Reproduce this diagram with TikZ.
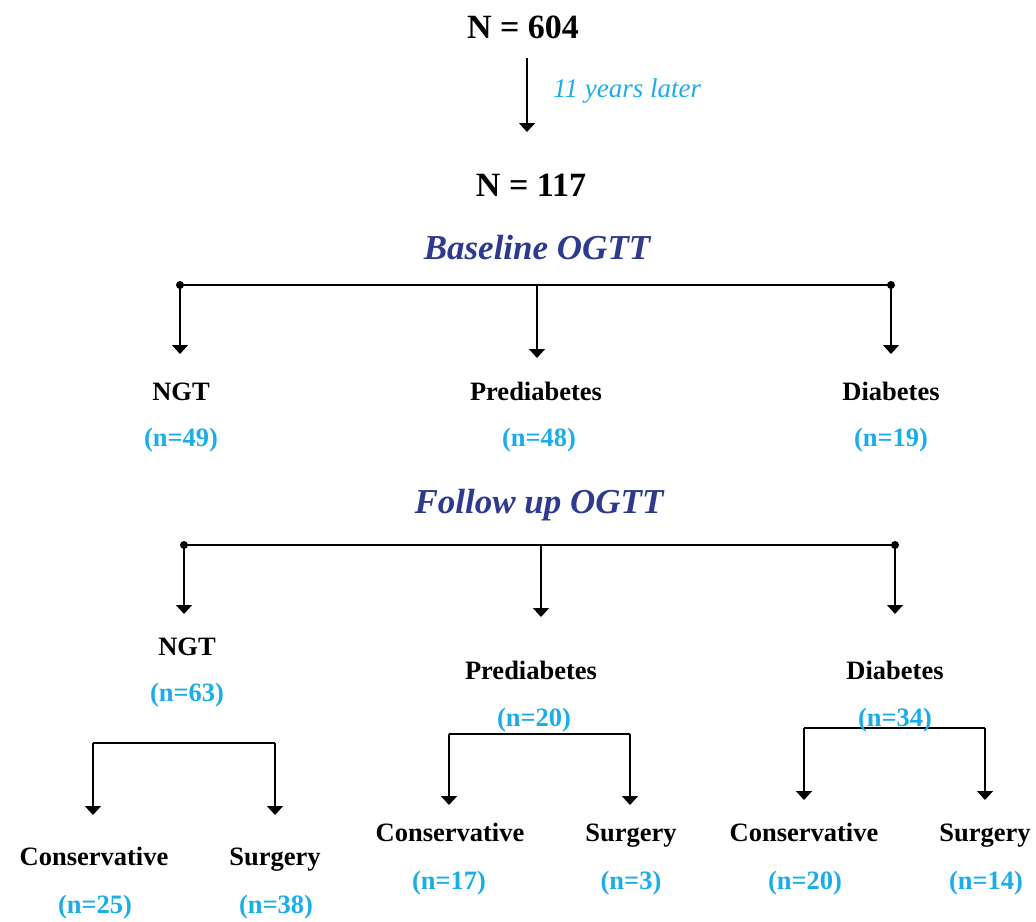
\documentclass[tikz,border=0pt]{standalone}
\usepackage{fontspec}
\setmainfont{Liberation Serif}
\usetikzlibrary{arrows.meta}
\definecolor{cyanlbl}{HTML}{1AADE8}
\definecolor{navy}{HTML}{2E3A8F}
\begin{document}
\begin{tikzpicture}[x=1pt,y=-1pt,
 lbl/.style={font=\fontsize{26.5}{30}\selectfont\bfseries, text=black, inner sep=0pt, text height=18pt, text depth=1pt},
 cnt/.style={font=\fontsize{26.5}{30}\selectfont\bfseries, text=cyanlbl, inner sep=0pt, text height=18pt, text depth=1pt},
 big/.style={font=\fontsize{34}{38}\selectfont\bfseries, inner sep=0pt},
 head/.style={font=\fontsize{35}{40}\selectfont\bfseries\itshape, text=navy, inner sep=0pt},
 note/.style={font=\fontsize{27}{30}\selectfont\itshape, text=cyanlbl, inner sep=0pt},
 conn/.style={line width=1.6pt, -{Triangle[width=16pt,length=9pt]}},
 bar/.style={line width=1.6pt},
 dot/.style={circle, fill=black, inner sep=0pt, minimum size=8pt}]
\useasboundingbox (0,0) rectangle (1036,921);

% top
\node[big] (n604) at (523,27) {N = 604};
\coordinate (a1) at (527,58);
\coordinate (a2) at (527,132);
\draw[conn] (a1) -- (a2);
\node[note, anchor=west] (later) at (553,91) {11 years later};
\node[big] (n117) at (531,185) {N = 117};

% baseline
\node[head] (base) at (537,248) {Baseline OGTT};
\coordinate (b1L) at (180,285);
\coordinate (b1M) at (537,285);
\coordinate (b1R) at (891,285);
\coordinate (t1L) at (180,354);
\coordinate (t1M) at (537,358);
\coordinate (t1R) at (891,354);
\draw[bar] (b1L) -- (b1R);
\node[dot] (d1L) at (b1L) {};
\node[dot] (d1R) at (b1R) {};
\draw[conn] (b1L) -- (t1L);
\draw[conn] (b1M) -- (t1M);
\draw[conn] (b1R) -- (t1R);
\node[lbl] (bngt) at (181,392) {NGT};
\node[lbl] (bpre) at (536,392) {Prediabetes};
\node[lbl] (bdia) at (891,392) {Diabetes};
\node[cnt] (bngtn) at (181,438) {(n=49)};
\node[cnt] (bpren) at (539,438) {(n=48)};
\node[cnt] (bdian) at (891,438) {(n=19)};

% follow up
\node[head] (foll) at (539,505) {Follow up OGTT};
\coordinate (b2L) at (184,545);
\coordinate (b2M) at (541,545);
\coordinate (b2R) at (895,545);
\coordinate (t2L) at (184,614);
\coordinate (t2M) at (541,617);
\coordinate (t2R) at (895,614);
\draw[bar] (b2L) -- (b2R);
\node[dot] (d2L) at (b2L) {};
\node[dot] (d2R) at (b2R) {};
\draw[conn] (b2L) -- (t2L);
\draw[conn] (b2M) -- (t2M);
\draw[conn] (b2R) -- (t2R);

% sub-brackets
\coordinate (c1a) at (93,743);
\coordinate (c1b) at (275,743);
\coordinate (c1at) at (93,815);
\coordinate (c1bt) at (275,815);
\draw[bar] (c1a) -- (c1b);
\draw[conn] (c1a) -- (c1at);
\draw[conn] (c1b) -- (c1bt);

\coordinate (c2a) at (449,734);
\coordinate (c2b) at (630,734);
\coordinate (c2at) at (449,805);
\coordinate (c2bt) at (630,805);
\draw[bar] (c2a) -- (c2b);
\draw[conn] (c2a) -- (c2at);
\draw[conn] (c2b) -- (c2bt);

\coordinate (c3a) at (804,728);
\coordinate (c3b) at (985,728);
\coordinate (c3at) at (804,800);
\coordinate (c3bt) at (985,800);
\draw[bar] (c3a) -- (c3b);
\draw[conn] (c3a) -- (c3at);
\draw[conn] (c3b) -- (c3bt);

\node[lbl] (fngt) at (187,647) {NGT};
\node[cnt] (fngtn) at (187,693) {(n=63)};
\node[lbl] (fpre) at (531,671) {Prediabetes};
\node[cnt] (fpren) at (534,718) {(n=20)};
\node[lbl] (fdia) at (895,671) {Diabetes};
\node[cnt] (fdian) at (895,718) {(n=34)};

\node[lbl] (k1) at (94,857) {Conservative};
\node[lbl] (s1) at (275,857) {Surgery};
\node[cnt] (k1n) at (95,905) {(n=25)};
\node[cnt] (s1n) at (276,905) {(n=38)};

\node[lbl] (k2) at (450,833) {Conservative};
\node[lbl] (s2) at (631,833) {Surgery};
\node[cnt] (k2n) at (449,881) {(n=17)};
\node[cnt] (s2n) at (631,881) {(n=3)};

\node[lbl] (k3) at (804,833) {Conservative};
\node[lbl] (s3) at (985,833) {Surgery};
\node[cnt] (k3n) at (805,881) {(n=20)};
\node[cnt] (s3n) at (986,881) {(n=14)};
\end{tikzpicture}
\end{document}
